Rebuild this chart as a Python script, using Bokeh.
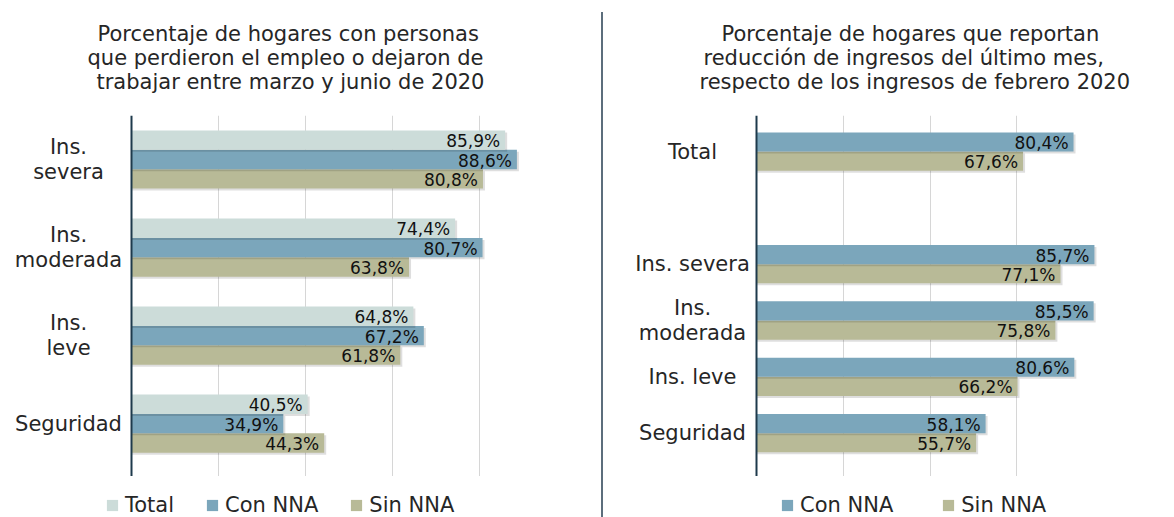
from bokeh.plotting import figure
from bokeh.models import ColumnDataSource, Range1d, FixedTicker, Legend, LegendItem, Div, Title
from bokeh.layouts import row, column
from bokeh.core.properties import value
from bokeh.embed import file_html
from bokeh.resources import INLINE

# ---------------- data ----------------
left_title = ["Porcentaje de hogares con personas",
              "que perdieron el empleo o dejaron de",
              "trabajar entre marzo y junio de 2020"]
left_categories = ["Ins.\nsevera", "Ins.\nmoderada", "Ins.\nleve", "Seguridad"]
left_total = [85.9, 74.4, 64.8, 40.5]
left_con_nna = [88.6, 80.7, 67.2, 34.9]
left_sin_nna = [80.8, 63.8, 61.8, 44.3]

right_title = ["Porcentaje de hogares que reportan",
               "reducción de ingresos del último mes,",
               "respecto de los ingresos de febrero 2020"]
right_categories = ["Total", "Ins. severa", "Ins.\nmoderada", "Ins. leve", "Seguridad"]
right_con_nna = [80.4, 85.7, 85.5, 80.6, 58.1]
right_sin_nna = [67.6, 77.1, 75.8, 66.2, 55.7]

# ---------------- style ----------------
FONT = "DejaVu Sans"
TEXT = "#262626"
COLORS = {"Total": "#CCDCD9", "Con NNA": "#7BA6BB", "Sin NNA": "#B8BA97"}
GRID = "#D6D6D6"
AXIS = "#1E3A4C"
LEGEND_H = 41
BORDER_L = 8


def fmt(v):
    return f"{v:.1f}%".replace(".", ",")


def make_chart(title_lines, title_starts, cats, series, positions, y_start, y_end, bar_h,
               x_max, grid_ticks, bar_w, gutter, border_r, label_center):
    frame_h = 361
    px_x = bar_w / x_max
    x_min = -gutter / px_x
    p = figure(frame_width=bar_w + gutter, frame_height=frame_h,
               min_border_left=BORDER_L, min_border_right=border_r,
               min_border_top=115, min_border_bottom=0,
               x_range=Range1d(x_min, x_max), y_range=Range1d(y_start, y_end),
               x_axis_location=None,
               output_backend="svg", toolbar_location=None, tools="")
    p.outline_line_color = None
    p.xgrid.ticker = FixedTicker(ticks=grid_ticks)
    p.xgrid.grid_line_color = GRID
    p.xgrid.grid_line_width = 1
    p.ygrid.visible = False

    ax = p.yaxis[0]
    ax.fixed_location = 0
    ax.ticker = FixedTicker(ticks=[])
    ax.major_tick_line_color = None
    ax.minor_tick_line_color = None
    ax.major_label_text_font_size = "0px"
    ax.axis_line_color = AXIS
    ax.axis_line_width = 2

    px_y = frame_h / abs(y_start - y_end)
    dx = 2.0 / px_x
    dy = 2.0 / px_y

    # category labels, centred in the gutter left of the axis
    cat_src = ColumnDataSource(dict(x=[label_center / px_x] * len(cats), y=positions, t=cats))
    p.text(x="x", y="y", text="t", source=cat_src, text_align="center",
           text_baseline="middle", text_font=value(FONT), text_font_size=value("21px"),
           text_color=TEXT, text_line_height=1.03)

    n = len(series)
    for k in reversed(range(n)):
        name, vals = series[k]
        ys = [pos + (k - (n - 1) / 2) * bar_h for pos in positions]
        src = ColumnDataSource(dict(y=ys, right=vals, lab=[fmt(v) for v in vals]))
        shadow = ColumnDataSource(dict(y=[y + dy for y in ys], right=[v + dx for v in vals]))
        p.hbar(y="y", right="right", left=0, height=bar_h, source=shadow,
               fill_color="black", fill_alpha=0.13, line_color=None)
        p.hbar(y="y", right="right", left=0, height=bar_h, source=src,
               fill_color=COLORS[name], line_color=None)
        p.text(x="right", y="y", text="lab", source=src, text_align="right",
               text_baseline="middle", x_offset=-5, y_offset=1,
               text_font=value(FONT), text_font_size=value("17px"), text_color="#111111")

    # titles: spacer first (nearest the frame), then lines from bottom to top
    p.add_layout(Title(text=" ", text_font_size="1px", standoff=20), "above")
    for line, start in reversed(list(zip(title_lines, title_starts))):
        p.add_layout(Title(text=line, align="left", offset=start - BORDER_L, standoff=-2,
                           text_font=FONT, text_font_size="21px", text_font_style="normal",
                           text_color=TEXT), "above")
    return p


def make_legend(names, width, legend_x, spacing):
    lf = figure(frame_width=width, frame_height=LEGEND_H, min_border=0,
                x_axis_location=None, y_axis_location=None,
                x_range=Range1d(0, 1), y_range=Range1d(0, 1),
                output_backend="svg", toolbar_location=None, tools="")
    lf.outline_line_color = None
    lf.xgrid.visible = False
    lf.ygrid.visible = False
    items = []
    for name in names:
        # legend proxy: a zero-area swatch renderer (only its colour is used)
        r = lf.hbar(y=[0.5], right=[0], left=[0], height=0, fill_color=COLORS[name],
                    line_color=None)
        items.append(LegendItem(label=name, renderers=[r]))
    lg = Legend(items=items, location=(legend_x, 0), orientation="horizontal",
                padding=0, margin=0, spacing=spacing, border_line_color=None,
                background_fill_alpha=0, glyph_width=14, glyph_height=14, label_standoff=6,
                label_text_font=FONT, label_text_font_size="21px", label_text_color=TEXT)
    lf.add_layout(lg)
    return lf


left_series = [("Total", left_total), ("Con NNA", left_con_nna), ("Sin NNA", left_sin_nna)]
left_positions = list(range(len(left_categories)))
left = make_chart(left_title, [97, 87, 96], left_categories, left_series,
                  left_positions, 3.6, -0.5, 0.22, 100, [20, 40, 60, 80, 100],
                  435, 123, 35, -63)
left_legend = make_legend([s[0] for s in left_series], 601, 105, 31)

# the "Total" row is followed by an empty slot
right_series = [("Con NNA", right_con_nna), ("Sin NNA", right_sin_nna)]
right_positions = [i + (1 if i > 0 else 0) for i in range(len(right_categories))]
right = make_chart(right_title, [118, 100, 96], right_categories, right_series,
                   right_positions, 5.77, -0.64, 0.34, 88, [22, 44, 66, 88],
                   347, 145, 71, -64)
right_legend = make_legend([s[0] for s in right_series], 571, 177, 48)

divider = Div(text="", width=2, height=505, margin=(12, 0, 0, 0),
              styles={"background-color": "#5C6E7C"})

layout = row(column(left, left_legend, spacing=0), divider,
             column(right, right_legend, spacing=0), spacing=0)
open("out.html", "w").write(file_html(layout, INLINE))
